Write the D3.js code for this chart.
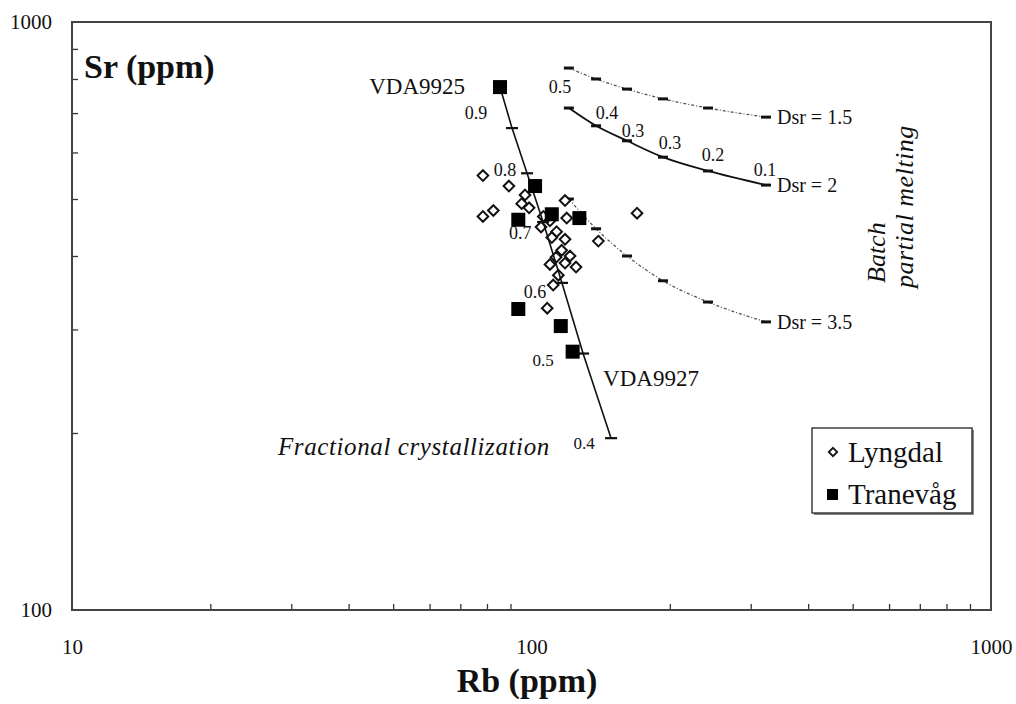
<!DOCTYPE html>
<html>
<head>
<meta charset="utf-8">
<script src="https://cdn.jsdelivr.net/npm/d3@7"></script>
<style>
  body { margin: 0; background: #fff; }
  text { font-family: "Liberation Serif", "Times New Roman", serif; fill: #111; }
</style>
</head>
<body>
<svg id="chart" width="1016" height="704"></svg>
<script>
"use strict";

// Lyngdal samples (open diamonds)
const lyngdalRb = [78.4, 89.3, 96.8, 95.2, 98.8, 78.4, 82.6, 118.3, 169.7, 139.8, 106.1, 104.9, 109.7,
  119.3, 113.4, 118.3, 110.7, 116.3, 121.3, 113.1, 109.7, 118.3, 125, 114.4, 111.5, 108.2];
const lyngdalSr = [548, 526, 508, 491, 483, 467, 478, 497, 473, 424, 467, 448, 459,
  464, 440, 427, 430, 409, 400, 398, 387, 389, 383, 371, 357, 326];

// Tranevåg samples (filled squares)
const tranevagRb = [85.4, 101.8, 93.6, 110.7, 127.1, 93.6, 115.8, 122.9];
const tranevagSr = [775, 526, 461, 471, 464, 325, 304, 275];

// fractional crystallization path VDA9925 -> VDA9927, F = 1 .. 0.4
const fcF = [1, 0.9, 0.8, 0.7, 0.6, 0.5, 0.4];
const fcRb = [85.4, 90.7, 97.8, 106, 116.5, 129.5, 149];
const fcSr = [775, 660, 553, 457, 360, 273, 196];

// batch partial melting curves
const meltLabels = ["0.5", "0.4", "0.3", "0.3", "0.2", "0.1"];
const meltRb = [120.6, 138.2, 161.4, 193.3, 242.2, 323.8];
const srDsr15 = [835, 800, 769, 740, 714, 689];
const srDsr2 = [714, 666, 628, 589, 558, 528];
const srDsr35 = [500, 445, 400, 363, 334, 309];

const xTickLabels = [10, 100, 1000];
const yTickLabels = [100, 1000];

const svg = d3.select("#chart");
const mLeft = 72, mRight = 991, mTop = 22, mBottom = 610;

const x = d3.scaleLog().domain([10, 1000]).range([mLeft, mRight]);
const y = d3.scaleLog().domain([100, 1000]).range([mBottom, mTop]);

const minorX = [20, 30, 40, 50, 60, 70, 80, 90, 200, 300, 400, 500, 600, 700, 800, 900];
const minorY = [200, 300, 400, 500, 600, 700, 800, 900];

// inner ticks
svg.append("g")
  .attr("transform", "translate(0," + mBottom + ")")
  .call(d3.axisBottom(x).tickValues(minorX).tickSize(-6).tickFormat(""))
  .call(g => g.select(".domain").remove())
  .call(g => g.selectAll("line").attr("stroke", "#333").attr("stroke-width", 1.3));

svg.append("g")
  .attr("transform", "translate(" + mLeft + ",0)")
  .call(d3.axisLeft(y).tickValues(minorY).tickSize(-6).tickFormat(""))
  .call(g => g.select(".domain").remove())
  .call(g => g.selectAll("line").attr("stroke", "#333").attr("stroke-width", 1.3));

// tick labels
svg.append("g")
  .attr("transform", "translate(0," + (mBottom + 26) + ")")
  .call(d3.axisBottom(x).tickValues(xTickLabels).tickSize(0).tickFormat(d3.format("d")))
  .call(g => g.select(".domain").remove())
  .call(g => g.selectAll("text").style("font-size", "21px").style("font-family", "Liberation Serif").attr("fill", "#111"));

svg.append("g")
  .attr("transform", "translate(" + (mLeft - 17) + ",0)")
  .call(d3.axisLeft(y).tickValues(yTickLabels).tickSize(0).tickFormat(d3.format("d")))
  .call(g => g.select(".domain").remove())
  .call(g => g.selectAll("text").style("font-size", "21px").style("font-family", "Liberation Serif").attr("fill", "#111"));

// frame
svg.append("rect")
  .attr("x", mLeft).attr("y", mTop)
  .attr("width", mRight - mLeft).attr("height", mBottom - mTop)
  .attr("fill", "none").attr("stroke", "#444").attr("stroke-width", 2);

// axis titles
svg.append("text").attr("x", 84).attr("y", 78)
  .style("font-size", "34px").style("font-weight", "bold").text("Sr (ppm)");
svg.append("text").attr("x", 527).attr("y", 692)
  .attr("text-anchor", "middle")
  .style("font-size", "34px").style("font-weight", "bold").text("Rb (ppm)");

const line = d3.line().x(d => x(d[0])).y(d => y(d[1]));

// melting curves
const meltCurves = [
  { sr: srDsr15, name: "Dsr = 1.5", dash: "3,2,1,2", color: "#555", width: 1.3 },
  { sr: srDsr2, name: "Dsr = 2", dash: null, color: "#111", width: 1.8 },
  { sr: srDsr35, name: "Dsr = 3.5", dash: "3,2,1,2", color: "#555", width: 1.3 }
];

meltCurves.forEach(c => {
  const pts = meltRb.map((r, i) => [r, c.sr[i]]);
  svg.append("path")
    .attr("d", line.curve(d3.curveMonotoneX)(pts))
    .attr("fill", "none").attr("stroke", c.color)
    .attr("stroke-width", c.width).attr("stroke-dasharray", c.dash);
  svg.selectAll(null).data(pts).enter().append("line")
    .attr("x1", d => x(d[0]) - 5).attr("x2", d => x(d[0]) + 5)
    .attr("y1", d => y(d[1])).attr("y2", d => y(d[1]))
    .attr("stroke", "#111").attr("stroke-width", 3);
  const last = pts[pts.length - 1];
  svg.append("text")
    .attr("x", x(last[0]) + 11).attr("y", y(last[1]))
    .attr("dominant-baseline", "central")
    .style("font-size", "20px").text(c.name);
});

// melt fraction labels along Dsr = 2
const meltOff = [[-9, -21], [11, -13], [6, -10], [7, -14], [5, -16], [-1, -15]];
svg.selectAll(null).data(meltLabels).enter().append("text")
  .attr("x", (d, i) => x(meltRb[i]) + meltOff[i][0])
  .attr("y", (d, i) => y(srDsr2[i]) + meltOff[i][1])
  .attr("text-anchor", "middle").attr("dominant-baseline", "central")
  .style("font-size", "18px").text(d => d);

// Lyngdal diamonds
const diamond = d3.symbol().type(d3.symbolDiamond2).size(72);
svg.selectAll(null).data(lyngdalRb).enter().append("path")
  .attr("d", diamond)
  .attr("transform", (d, i) => "translate(" + x(d) + "," + y(lyngdalSr[i]) + ")")
  .attr("fill", "#fff").attr("stroke", "#111").attr("stroke-width", 2);

// fractional crystallization line
const fcPts = fcRb.map((r, i) => [r, fcSr[i]]);
svg.append("path")
  .attr("d", line.curve(d3.curveLinear)(fcPts))
  .attr("fill", "none").attr("stroke", "#111").attr("stroke-width", 1.6);
svg.selectAll(null).data(fcPts.slice(1)).enter().append("line")
  .attr("x1", d => x(d[0]) - 6).attr("x2", d => x(d[0]) + 6)
  .attr("y1", d => y(d[1])).attr("y2", d => y(d[1]))
  .attr("stroke", "#111").attr("stroke-width", 2.2);

const fcOff = [[-36, -15], [-22, -3], [-23, 11], [-27, 9], [-40, 7], [-27, 5]];
svg.selectAll(null).data(fcF.slice(1)).enter().append("text")
  .attr("x", (d, i) => x(fcRb[i + 1]) + fcOff[i][0])
  .attr("y", (d, i) => y(fcSr[i + 1]) + fcOff[i][1])
  .attr("text-anchor", "middle").attr("dominant-baseline", "central")
  .style("font-size", (d, i) => i >= 4 ? "17px" : "18px").text(d => d3.format(".1f")(d));

// Tranevåg squares
svg.selectAll(null).data(tranevagRb).enter().append("rect")
  .attr("x", d => x(d) - 7)
  .attr("y", (d, i) => y(tranevagSr[i]) - 7)
  .attr("width", 14).attr("height", 14)
  .attr("fill", "#000");

// sample labels
svg.append("text")
  .attr("x", x(tranevagRb[0]) - 35).attr("y", y(tranevagSr[0]) + 7)
  .attr("text-anchor", "end").style("font-size", "23px").text("VDA9925");
svg.append("text")
  .attr("x", x(fcRb[6]) - 8).attr("y", y(fcSr[5]) + 32)
  .style("font-size", "23px").text("VDA9927");

// process annotations
svg.append("text")
  .attr("x", 278).attr("y", 455)
  .style("font-size", "25px").style("font-style", "italic").style("letter-spacing", "0.6px")
  .text("Fractional crystallization");
svg.append("text")
  .attr("transform", "translate(885,283) rotate(-90)")
  .style("font-size", "26px").style("font-style", "italic").text("Batch");
svg.append("text")
  .attr("transform", "translate(913,288) rotate(-90)")
  .style("font-size", "26px").style("font-style", "italic").style("letter-spacing", "0.5px")
  .text("partial melting");

// legend
const lg = svg.append("g").attr("transform", "translate(812,428)");
lg.append("rect").attr("x", 2).attr("y", 2).attr("width", 160).attr("height", 85).attr("fill", "#888");
lg.append("rect").attr("width", 160).attr("height", 85)
  .attr("fill", "#fff").attr("stroke", "#222").attr("stroke-width", 1.3);
lg.append("path").attr("d", d3.symbol().type(d3.symbolDiamond2).size(45))
  .attr("transform", "translate(21,24)")
  .attr("fill", "#fff").attr("stroke", "#111").attr("stroke-width", 1.8);
lg.append("rect").attr("x", 15).attr("y", 61).attr("width", 11).attr("height", 11).attr("fill", "#000");
lg.append("text").attr("x", 36).attr("y", 34).style("font-size", "29px").text("Lyngdal");
lg.append("text").attr("x", 36).attr("y", 76).style("font-size", "29px").text("Tranevåg");
</script>
</body>
</html>
